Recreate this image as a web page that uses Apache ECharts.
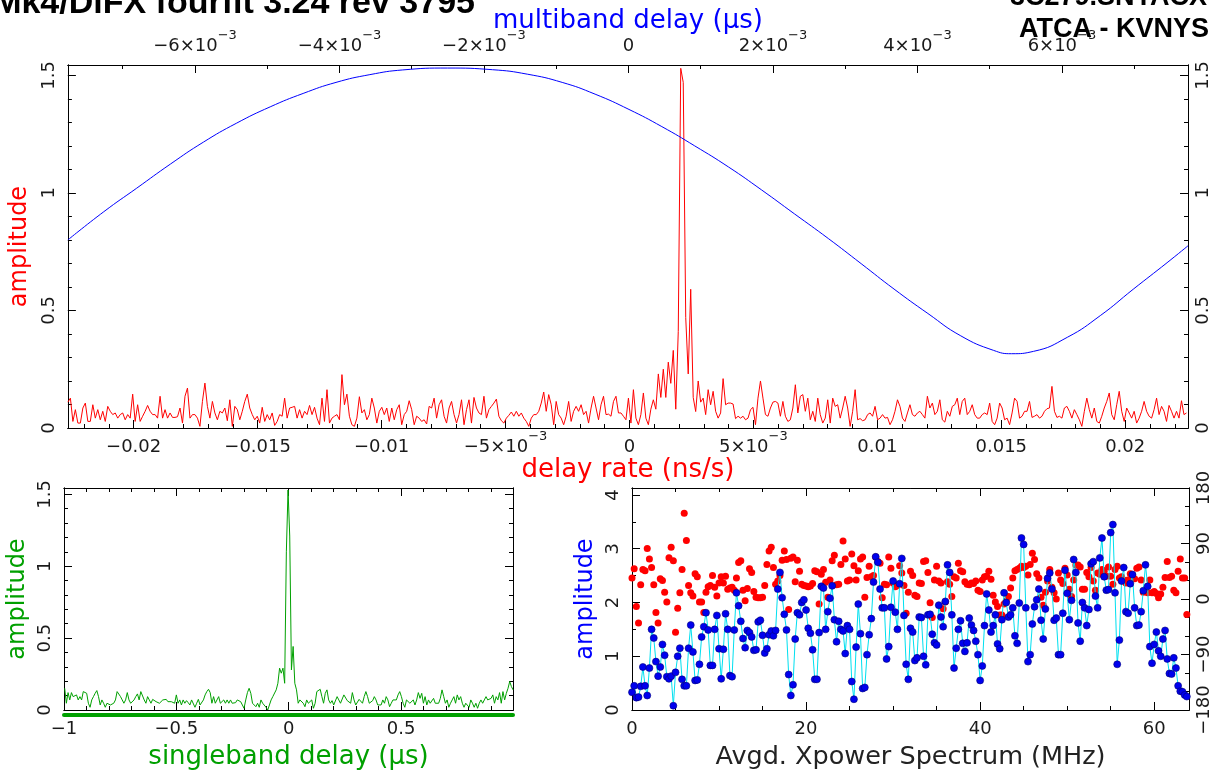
<!DOCTYPE html>
<html>
<head>
<meta charset="utf-8">
<script src="https://cdn.jsdelivr.net/npm/echarts@6/dist/echarts.min.js"></script>
<style>
html, body { margin: 0; padding: 0; background: #fff; }
#fringe { width: 1215px; height: 773px; }
</style>
</head>
<body>
<div id="fringe"></div>
<script>
// ---- delay rate spectrum (top panel, red), one sample every ~1e-4 ns/s
const rateStart = -0.022653;
const rateStep = 0.0001005;
const rateAmpA = [
  0.11,0.127,0.028,0.078,0.021,0.021,0.085,0.106,0.028,0.028,
  0.099,0.042,0.078,0.035,0.071,0.028,0.092,0.071,0.057,0.064,
  0.042,0.057,0.064,0.035,0.057,0.042,0.144,0.028,0.099,0.028,
  0.05,0.071,0.096,0.071,0.057,0.057,0.042,0.135,0.042,0.078,
  0.042,0.064,0.045,0.045,0.048,0.085,0.021,0.135,0.17,0.042,
  0.057,0.057,0.042,0.007,0.113,0.191,0.092,0.042,0.113,0.064,
  0.035,0.071,0.064,0.085,0.031,0.12,0.007,0.092,0.078,0.035,
  0.071,0.113,0.144,0.085,0.057,0.035,0.05,0.021,0.088,0.028,
  0.057,0.035,0.064,0.011,0.028,0.057,0.05,0.127,0.042,0.085,
  0.088,0.092,0.042,0.078,0.042,0.071,0.057,0.096,0.057,0.088,
  0.042,0.014,0.127,0.028,0.163,0.021,0.042,0.05,0.057,0.035,
  0.227,0.099,0.144,0.05,0.014,0.007,0.042,0.133,0.064,0.078,
  0.035,0.057,0.127,0.085,0.021,0.071,0.088,0.057,0.085,0.028,
  0.085,0.035,0.078,0.099,0.014,0.057,0.071,0.116,0.078,0.014,
  0.05,0.042,0.028,0.035,0.017,0.092,0.085,0.127,0.042,0.099
];
const rateAmpB = [
  0.12,0.05,0.021,0.085,0.113,0.057,0.021,0.057,0.12,0.014,
  0.078,0.12,0.021,0.13,0.085,0.064,0.057,0.135,0.042,0.078,
  0.092,0.106,0.123,0.05,0.031,0.021,0.042,0.054,0.068,0.05,
  0.071,0.05,0.064,0.042,0.028,0.007,0.042,0.057,0.057,0.071,
  0.106,0.153,0.071,0.142,0.099,0.014,0.113,0.057,0.042,0.014,
  0.05,0.113,0.028,0.071,0.092,0.071,0.099,0.057,0.071,0.021,
  0.085,0.135,0.085,0.035,0.099,0.135,0.057,0.059,0.05,0.113,
  0.135,0.064,0.064,0.05,0.035,0.127,0.021,0.163,0.042,0.014,
  0.057,0.149,0.042,0.014,
  0.08,0.12,0.08,0.23,0.13,0.25,0.13,0.28,0.19,0.33,
  0.08,0.41,1.53,1.47,0.47,0.23,0.59,0.13,0.07,0.2,0.11,
  0.127,0.057,0.163,0.099,0.156,0.071,0.042,0.064,0.21,0.099,
  0.106,0.106,0.102,0.04,0.05,0.042,0.05,0.035,0.042,0.078,
  0.088,0.014,0.127,0.2,0.127,0.057,0.05,0.085,0.11,0.113,
  0.106,0.05,0.113,0.05,0.028,0.035,0.085,0.184,0.064,0.135,
  0.142,0.071,0.127,0.035,0.071,0.028
];
const rateAmpC = [
  0.127,0.057,0.021,0.042,0.12,0.021,0.127,0.092,0.099,0.042,
  0.085,0.135,0.085,0.007,0.071,0.163,0.035,0.04,0.031,0.035,
  0.057,0.064,0.05,0.092,0.035,0.042,0.057,0.042,0.045,0.014,
  0.035,0.071,0.12,0.092,0.042,0.028,0.064,0.099,0.057,0.05,
  0.064,0.071,0.057,0.042,0.135,0.085,0.106,0.057,0.071,0.12,
  0.035,0.025,0.071,0.05,0.092,0.099,0.127,0.057,0.113,0.127,
  0.057,0.071,0.099,0.057,0.042,0.042,0.057,0.064,0.057,0.106,
  0.028,0.014,0.042,0.106,0.085,0.035,0.042,0.014,0.064,0.127,
  0.113,0.042,0.05,0.071,0.071,0.113,0.045,0.05,0.057,0.042,
  0.05,0.071,0.082,0.085,0.177,0.071,0.045,0.05,0.042,0.085,
  0.092,0.071,0.042,0.078,0.057,0.035,0.007,0.071,0.127,0.078,
  0.042,0.085,0.028,0.021,0.05,0.085,0.113,0.149,0.057,0.035,
  0.099,0.156,0.071,0.028,0.085,0.064,0.042,0.071,0.021,0.042,
  0.071,0.113,0.071,0.05,0.042,0.078,0.127,0.057,0.092,0.071,
  0.028,0.096,0.071,0.042,0.071,0.042,0.116,0.057,0.064
];

// ---- multiband delay function (top panel, blue), against the top axis
const mbdDelay = [-0.007759,-0.007262,-0.006807,-0.006338,-0.005883,-0.005428,-0.004959,-0.004503,
  -0.004048,-0.003579,-0.003124,-0.002503,-0.001883,-0.0014,-0.000917,-0.000462,0.000007,0.000462,
  0.000917,0.001386,0.001841,0.002297,0.002766,0.003221,0.003676,0.004145,0.0046,0.005055,
  0.005303,0.005607,0.006076,0.006531,0.006986,0.007455,0.007745];
const mbdAmp = [0.800,0.920,1.020,1.123,1.216,1.296,1.366,1.423,1.470,1.503,1.523,1.531,1.524,1.505,
  1.470,1.420,1.355,1.282,1.200,1.110,1.013,0.911,0.806,0.699,0.591,0.487,0.392,0.330,0.316,0.326,
  0.386,0.478,0.590,0.703,0.775];

// ---- singleband delay function (bottom left, green)
const sbdStart = -0.997;
const sbdStep = 0.00753;
const sbdAmp = [
  0.151,0.047,0.121,0.07,0.121,0.093,0.081,0.105,0.07,0.093,
  0.07,0.128,0.14,0.116,0.047,0.019,0.07,0.093,0.116,0.135,
  0.093,0.035,0.07,0.047,0.019,0.047,0.058,0.035,0.023,0.047,
  0.07,0.128,0.116,0.093,0.07,0.047,0.07,0.121,0.07,0.047,
  0.035,0.07,0.093,0.112,0.07,0.128,0.128,0.07,0.047,0.093,
  0.07,0.047,0.074,0.065,0.058,0.051,0.047,0.058,0.07,0.065,
  0.074,0.058,0.047,0.058,0.07,0.047,0.105,0.047,0.07,0.035,
  0.07,0.047,0.065,0.051,0.035,0.07,0.081,0.019,0.047,0.074,
  0.035,0.047,0.07,0.105,0.128,0.144,0.121,0.047,0.093,0.047,
  0.07,0.093,0.047,0.035,0.07,0.047,0.07,0.047,0.07,0.047,
  0.035,0.051,0.07,0.065,0.058,0.047,0.012,0.07,0.121,0.151,
  0.116,0.047,0.058,0.023,0.047,0.019,0.07,0.047,0.035,0.019,
  0.0,0.035,0.07,0.093,0.093,0.14,0.186,0.291,0.256,0.291,
  0.186,1.1,1.53,1.21,0.279,0.442,0.186,0.14,0.047,0.07,
  0.081,0.047,0.023,0.07,0.047,0.058,0.07,0.012,0.047,0.128,
  0.116,0.144,0.093,0.047,0.116,0.14,0.07,0.047,0.065,0.035,
  0.047,0.093,0.07,0.047,0.058,0.105,0.093,0.065,0.07,0.047,
  0.121,0.07,0.035,0.047,0.074,0.07,0.047,0.093,0.128,0.093,
  0.047,0.035,0.065,0.093,0.07,0.035,0.023,0.035,0.07,0.047,
  0.093,0.07,0.023,0.047,0.07,0.058,0.07,0.105,0.128,0.093,
  0.047,0.019,0.07,0.058,0.047,0.058,0.07,0.035,0.07,0.121,
  0.081,0.116,0.047,0.093,0.035,0.07,0.047,0.047,0.081,0.047,
  0.051,0.047,0.081,0.14,0.093,0.047,0.07,0.019,0.047,0.07,
  0.093,0.047,0.105,0.07,0.093,0.047,0.019,0.047,0.035,0.019,
  0.07,0.047,0.019,0.047,0.012,0.047,0.07,0.047,0.07,0.093,
  0.07,0.058,0.081,0.105,0.047,0.093,0.07,0.121,0.047,0.128,
  0.07,0.116,0.151,0.198,0.163,0.14
];

// ---- averaged cross-power spectrum (bottom right), 0.25 MHz channels
const chanStep = 0.25;
const specAmp = [
  0.33,0.45,0.23,0.24,0.44,0.80,0.45,0.27,0.78,1.50,
  1.34,0.90,0.63,0.80,1.22,1.02,0.62,0.58,0.63,0.08,
  0.70,1.00,1.15,0.57,0.45,0.45,1.15,1.58,1.08,0.55,
  0.56,0.85,1.36,1.55,1.81,1.49,0.83,0.83,1.50,1.76,
  1.14,0.58,1.13,1.79,1.50,0.64,0.62,1.49,2.18,1.94,
  1.65,1.33,1.16,1.48,1.44,1.36,1.11,1.12,1.64,1.67,
  1.39,1.06,1.14,1.40,1.47,1.38,1.48,2.25,2.56,2.09,
  1.78,1.49,0.66,0.27,0.47,1.32,1.81,1.77,2.00,2.05,
  1.86,1.52,1.43,1.12,0.57,0.57,1.44,2.30,2.27,1.50,
  1.83,2.08,2.31,1.68,1.27,1.65,1.50,1.47,1.05,1.57,
  1.50,0.53,0.20,1.17,1.97,1.42,0.40,0.42,1.03,1.40,
  1.70,2.38,2.85,2.75,2.25,1.90,1.90,0.95,1.18,1.91,
  2.40,1.82,1.50,2.35,2.82,1.76,0.85,0.57,1.52,1.45,
  0.92,0.97,1.73,1.72,1.00,0.84,1.77,1.78,1.41,1.25,
  1.21,1.95,1.73,1.55,2.02,2.70,2.56,1.77,0.78,1.15,
  1.50,1.66,1.24,1.09,1.25,1.71,1.58,1.48,1.28,1.03,
  0.55,0.82,1.57,2.16,1.86,1.45,1.57,1.77,1.23,1.14,
  1.68,2.18,2.00,1.73,1.77,1.90,1.38,1.24,1.99,3.20,
  3.08,1.90,0.90,1.03,1.60,1.92,2.05,2.25,1.67,1.32,
  1.88,2.45,2.55,2.25,1.67,1.71,1.03,1.03,1.80,2.60,
  2.17,1.68,2.04,2.80,2.56,1.62,1.28,2.00,1.90,1.57,
  1.87,2.72,2.76,2.12,1.90,2.83,3.20,2.48,2.23,2.24,
  3.30,3.45,2.18,0.85,1.30,2.40,2.65,1.83,1.80,2.35,
  2.52,1.90,1.57,1.58,1.83,2.22,2.70,2.30,1.18,0.87,
  1.22,1.45,1.10,1.00,1.32,1.48,0.95,0.68,0.67,0.97,
  0.78,0.45,0.35,0.34,0.28,0.25
];
const specPhase = [
  34,49,-12,-39,23,48,46,82,65,51,
  23,-22,-39,33,30,11,-5,67,84,62,
  -54,-15,10,48,139,95,22,10,5,41,
  36,-5,-5,-22,11,20,22,38,19,5,
  26,36,26,37,16,18,19,14,34,59,
  62,14,-3,17,49,43,12,3,2,2,
  3,22,56,78,84,51,24,29,38,63,
  78,64,-17,66,68,28,63,45,24,22,
  21,20,21,25,46,44,-8,40,48,27,
  3,31,62,71,23,24,56,94,65,29,
  31,73,54,31,46,65,68,3,35,53,
  36,38,68,61,58,2,24,23,68,50,
  26,20,22,54,42,22,-23,11,45,38,
  6,4,26,25,61,62,43,-6,-30,31,
  53,29,26,-16,-5,28,24,4,36,34,
  58,46,44,28,24,23,26,25,29,14,
  12,31,36,37,45,32,6,-5,-12,-26,
  -26,-8,-3,4,18,34,46,48,50,53,
  51,53,39,56,74,64,41,34,3,-10,
  11,29,48,19,10,0,42,31,25,50,
  39,16,4,31,55,55,52,16,16,43,
  36,51,29,14,42,40,48,45,37,52,
  37,24,48,53,34,36,31,26,31,41,
  39,33,50,52,31,11,12,10,31,10,
  12,9,2,8,19,35,61,35,37,14,
  10,45,65,34,34,-25
];

// ---- tick positions and labels
const rateTicks = [-0.02, -0.015, -0.01, -0.005, 0, 0.005, 0.01, 0.015, 0.02];
const rateTickLabels = ['−0.02', '−0.015', '−0.01', '−5×10^−3', '0', '5×10^−3', '0.01', '0.015', '0.02'];
const mbdTicks = [-0.006, -0.004, -0.002, 0, 0.002, 0.004, 0.006];
const mbdTickLabels = ['−6×10^−3', '−4×10^−3', '−2×10^−3', '0', '2×10^−3', '4×10^−3', '6×10^−3'];
const ampTicks = [0, 0.5, 1, 1.5];
const ampTickLabels = ['0', '0.5', '1', '1.5'];
const sbdTicks = [-1, -0.5, 0, 0.5];
const sbdTickLabels = ['−1', '−0.5', '0', '0.5'];
const freqTicks = [0, 20, 40, 60];
const freqTickLabels = ['0', '20', '40', '60'];
const specAmpTicks = [0, 1, 2, 3, 4];
const specAmpTickLabels = ['0', '1', '2', '3', '4'];
const phaseTicks = [-180, -90, 0, 90, 180];
const phaseTickLabels = ['−180', '−90', '0', '90', '180'];

const FONT = 'DejaVu Sans';
const INK = '#1a1a1a';
const RED = '#ff0000', BLUE = '#0000ff', GREEN = '#00a000';

function steps(a, b, d) {
  const out = [];
  for (let v = a; v <= b + d / 1000; v += d) out.push(+v.toFixed(6));
  return out;
}

// '−5×10^−3' -> rich text with a raised exponent
function sup(s) {
  const p = s.split('^');
  return p.length > 1 ? '{b|' + p[0] + '}{s|' + p[1] + '}' : '{b|' + s + '}';
}
const richSup = {
  b: { fontFamily: FONT, fontSize: 18, color: INK, lineHeight: 26, verticalAlign: 'bottom' },
  s: { fontFamily: FONT, fontSize: 13, color: INK, lineHeight: 26, verticalAlign: 'top' }
};

function labelFor(ticks, labels, rich) {
  return function (v) {
    const i = ticks.findIndex(t => Math.abs(t - v) < 1e-9);
    if (i < 0) return '';
    return rich ? sup(labels[i]) : labels[i];
  };
}

// one axis with long ticks (+ labels) and one twin with short ticks
function axisPair(grid, pos, min, max, majors, minors, label, extra) {
  const line = { show: true, onZero: false, lineStyle: { color: '#000', width: 1 } };
  const major = {
    type: 'value', gridIndex: grid, position: pos, min: min, max: max,
    axisLine: line, splitLine: { show: false },
    axisTick: { show: true, inside: true, length: 8, customValues: majors, lineStyle: { color: '#000' } },
    axisLabel: label ? Object.assign({ show: true, customValues: majors, color: INK, fontFamily: FONT, fontSize: 18 }, label) : { show: false }
  };
  if (extra) Object.assign(major, extra);
  const minor = {
    type: 'value', gridIndex: grid, position: pos, min: min, max: max,
    axisLine: line, splitLine: { show: false },
    axisTick: { show: true, inside: true, length: 4, customValues: minors, lineStyle: { color: '#000' } },
    axisLabel: { show: false }
  };
  return [major, minor];
}

function axisName(text, color, gap, size) {
  return {
    name: text, nameLocation: 'middle', nameGap: gap,
    nameTextStyle: { color: color, fontFamily: FONT, fontSize: size || 24 }
  };
}

const rateMin = -0.022653, rateMax = 0.022533;
const mbdMin = -0.007759, mbdMax = 0.007745;
const ampMax = 1.544;
const sbdMin = -1, sbdMax = 0.998;
const freqMax = 64, specMax = 4.13;

const xAxes = [].concat(
  // top panel: delay rate (bottom) and multiband delay (top)
  axisPair(0, 'bottom', rateMin, rateMax, rateTicks, steps(-0.022, 0.022, 0.001),
    { margin: 2, formatter: labelFor(rateTicks, rateTickLabels, true), rich: richSup },
    axisName('delay rate (ns/s)', RED, 25, 26)),
  axisPair(0, 'top', mbdMin, mbdMax, mbdTicks, steps(-0.007, 0.007, 0.001),
    { margin: 10, formatter: labelFor(mbdTicks, mbdTickLabels, true), rich: richSup },
    Object.assign(axisName('multiband delay (μs)', BLUE, 31, 26), { nameMoveOverlap: false })),
  // bottom left: singleband delay
  axisPair(1, 'bottom', sbdMin, sbdMax, sbdTicks, steps(-1, 0.9, 0.1),
    { margin: 2, formatter: labelFor(sbdTicks, sbdTickLabels, true), rich: richSup },
    axisName('singleband delay (μs)', GREEN, 34, 26)),
  axisPair(1, 'top', sbdMin, sbdMax, sbdTicks, steps(-1, 0.9, 0.1)),
  [{
    type: 'value', gridIndex: 1, position: 'bottom', offset: 5, min: sbdMin, max: sbdMax,
    axisLine: { show: true, onZero: false, lineStyle: { color: GREEN, width: 4 } },
    axisTick: { show: false }, axisLabel: { show: false }, splitLine: { show: false }
  }],
  // bottom right: frequency
  axisPair(2, 'bottom', 0, freqMax, freqTicks, steps(0, 60, 5),
    { margin: 2, formatter: labelFor(freqTicks, freqTickLabels, true), rich: richSup },
    axisName('Avgd. Xpower Spectrum (MHz)', '#222', 34, 25.5)),
  axisPair(2, 'top', 0, freqMax, freqTicks, steps(0, 60, 5))
);

const yAxes = [].concat(
  axisPair(0, 'left', 0, ampMax, ampTicks, steps(0, 1.5, 0.1),
    { rotate: 90, margin: 10, formatter: labelFor(ampTicks, ampTickLabels, false) },
    axisName('amplitude', RED, 34)),
  axisPair(0, 'right', 0, ampMax, ampTicks, steps(0, 1.5, 0.1),
    { rotate: 90, margin: 6, formatter: labelFor(ampTicks, ampTickLabels, false) }),
  axisPair(1, 'left', 0, ampMax, ampTicks, steps(0, 1.5, 0.1),
    { rotate: 90, margin: 10, formatter: labelFor(ampTicks, ampTickLabels, false) },
    axisName('amplitude', GREEN, 34)),
  axisPair(1, 'right', 0, ampMax, ampTicks, steps(0, 1.5, 0.1)),
  axisPair(2, 'left', 0, specMax, specAmpTicks, steps(0, 4, 0.5),
    { rotate: 90, margin: 10, formatter: labelFor(specAmpTicks, specAmpTickLabels, false) },
    axisName('amplitude', BLUE, 34)),
  axisPair(2, 'right', -180, 180, phaseTicks, steps(-180, 180, 30),
    { rotate: 90, margin: 6, formatter: labelFor(phaseTicks, phaseTickLabels, false) })
);

const rateData = rateAmpA.concat(rateAmpB, rateAmpC).map((a, i) => [rateStart + i * rateStep, a]);
const mbdData = mbdDelay.map((d, i) => [d, mbdAmp[i]]);
const sbdData = sbdAmp.map((a, i) => [sbdStart + i * sbdStep, a]);
const ampData = specAmp.map((a, i) => [i * chanStep, a]);
const phaseData = specPhase.map((p, i) => [i * chanStep, p]);

const chart = echarts.init(document.getElementById('fringe'), null, { renderer: 'canvas' });
chart.setOption({
  animation: false,
  backgroundColor: '#fff',
  grid: [
    { left: 64, top: 65, width: 1124, height: 363 },
    { left: 64, top: 488, width: 449, height: 222 },
    { left: 632, top: 488, width: 557, height: 222 }
  ],
  xAxis: xAxes,
  yAxis: yAxes,
  graphic: [
    { type: 'text', x: 475, y: 21, silent: true,
      style: { text: 'Mk4/DiFX fourfit 3.24 rev 3795', fill: '#000', font: 'bold 34px "Liberation Sans"',
        textAlign: 'right', textVerticalAlign: 'bottom', align: 'right', verticalAlign: 'bottom' } },
    { type: 'text', x: 1010, y: 11, silent: true,
      style: { text: '3C279.SNYACX', fill: '#000', font: 'bold 27px "Liberation Sans"',
        textAlign: 'left', textVerticalAlign: 'bottom', align: 'left', verticalAlign: 'bottom' } },
    { type: 'text', x: 1019, y: 43, silent: true,
      style: { text: 'ATCA - KVNYS', fill: '#000', font: 'bold 27px "Liberation Sans"',
        textAlign: 'left', textVerticalAlign: 'bottom', align: 'left', verticalAlign: 'bottom' } }
  ],
  series: [
    { type: 'line', xAxisIndex: 0, yAxisIndex: 0, data: rateData, symbol: 'none',
      lineStyle: { color: RED, width: 1 }, silent: true },
    { type: 'line', xAxisIndex: 2, yAxisIndex: 0, data: mbdData, symbol: 'none', smooth: true,
      lineStyle: { color: BLUE, width: 1 }, silent: true },
    { type: 'line', xAxisIndex: 4, yAxisIndex: 4, data: sbdData, symbol: 'none',
      lineStyle: { color: GREEN, width: 1 }, silent: true },
    { type: 'scatter', xAxisIndex: 9, yAxisIndex: 10, data: phaseData, symbolSize: 7,
      itemStyle: { color: RED, opacity: 1 }, silent: true },
    { type: 'line', xAxisIndex: 9, yAxisIndex: 8, data: ampData, symbol: 'circle', symbolSize: 7,
      showAllSymbol: true, lineStyle: { color: '#00e0f0', width: 1 },
      itemStyle: { color: '#0000ee', borderColor: '#00007a', borderWidth: 0.6 }, silent: true }
  ]
});
</script>
</body>
</html>
